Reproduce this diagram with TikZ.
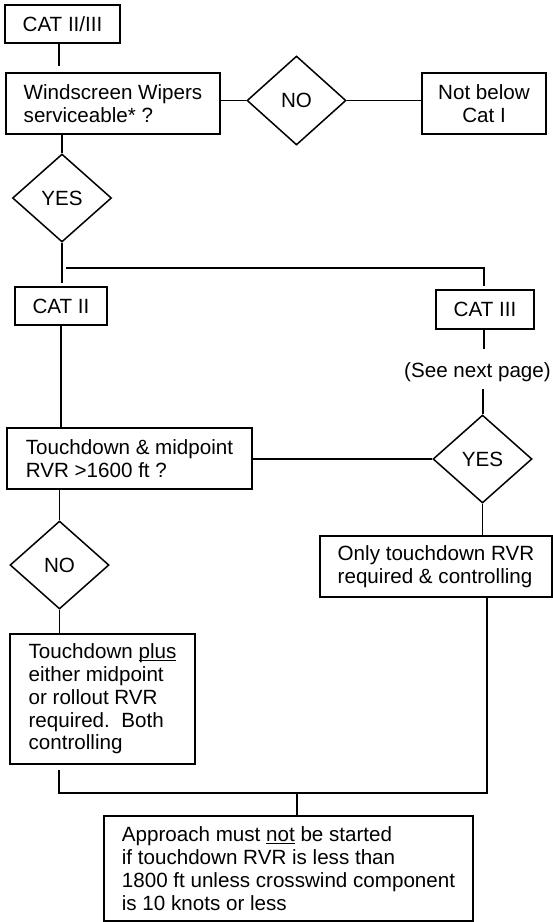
\documentclass[tikz,border=0pt]{standalone}
\usepackage{fontspec}
\setmainfont{Liberation Sans}
\usetikzlibrary{shapes.geometric}
\newsavebox\ulnbox
\newcommand\uln[1]{\leavevmode\sbox\ulnbox{#1}\rlap{\rule[-2.4pt]{\wd\ulnbox}{1.1pt}}\usebox\ulnbox}
\begin{document}
\begin{tikzpicture}[x=1pt,y=-1pt,
  every node/.style={font=\fontsize{20.6}{22.8}\selectfont},
  ln/.style={line width=1.5pt},
  flowbox/.style={draw, line width=1.5pt, rectangle, align=left, inner sep=0pt},
  cbox/.style={draw, line width=1.5pt, rectangle, align=center, inner sep=0pt},
  dia/.style={draw, line width=1.5pt, diamond, inner sep=0pt, minimum width=99pt, minimum height=88pt}]
\useasboundingbox (0,0) rectangle (553,922);

% nodes
\node[cbox, minimum width=115pt, minimum height=38pt] (c1) at (62.5,24) {CAT II/III};
\node[flowbox, minimum width=214pt, minimum height=61pt] (ws) at (113,103.5) {Windscreen Wipers\\serviceable* ?};
\node[dia, minimum height=89pt] (no1) at (296.5,100.5) {NO};
\node[cbox, minimum width=124pt, minimum height=61pt] (nb) at (484,103.5) {Not below\\Cat I};
\node[dia] (yes1) at (62,198) {YES};
\node[cbox, minimum width=92pt, minimum height=38pt] (c2) at (61,306) {CAT II};
\node[cbox, minimum width=98pt, minimum height=39pt] (c3) at (485,309.5) {CAT III};
\node[anchor=east, inner sep=0pt] (snp) at (551,372) {(See next page)};
\node[flowbox, minimum width=245pt, minimum height=61pt] (td) at (129.5,458.5) {Touchdown \& midpoint\\RVR >1600 ft ?};
\node[dia] (yes2) at (482.5,459) {YES};
\node[flowbox, minimum width=232pt, minimum height=61pt] (only) at (436,566.5) {Only touchdown RVR\\required \& controlling};
\node[dia] (no2) at (59.5,565) {NO};
\node[flowbox, minimum width=185pt, minimum height=130pt] (tp) at (102.5,699) {Touchdown \uln{plus}\\either midpoint\\or rollout RVR\\required.\ \ Both\\controlling};
\node[flowbox, minimum width=369pt, minimum height=105pt] (ap) at (288.5,868.5) {Approach must \uln{not} be started\\if touchdown RVR is less than\\1800 ft unless crosswind component\\is 10 knots or less};

% free ends and junctions
\coordinate (e1) at (59,66);
\coordinate (e2) at (62,283);
\coordinate (b1) at (66,268);
\coordinate (b2) at (484,268);
\coordinate (e3) at (484,286);
\coordinate (e4) at (484,349);
\coordinate (e5) at (483,389);
\coordinate (e6) at (59,770);
\coordinate (j1) at (59,793);
\coordinate (j2) at (487,793);
\coordinate (jm) at (297,793);

% connectors
\draw[ln] (e1 |- c1.south) -- (e1);
\draw[ln] (ws.east |- no1.west) -- (no1.west);
\draw[ln] (no1.east) -- (nb.west |- no1.east);
\draw[ln] (ws.south -| yes1.north) -- (yes1.north);
\draw[ln] (yes1.south) -- (e2);
\draw[ln] (b1) -- (b2) -- (e3);
\draw[ln] (c2.south) -- (c2.south |- td.north);
\draw[ln] (e4 |- c3.south) -- (e4);
\draw[ln] (e5) -- (e5 |- yes2.north);
\draw[ln] (td.east |- yes2.west) -- (yes2.west);
\draw[ln] (no2.north |- td.south) -- (no2.north);
\draw[ln] (yes2.south) -- (yes2.south |- only.north);
\draw[ln] (no2.south) -- (no2.south |- tp.north);
\draw[ln] (e6) -- (j1) -- (j2) -- (j2 |- only.south);
\draw[ln] (jm) -- (jm |- ap.north);
\end{tikzpicture}
\end{document}
